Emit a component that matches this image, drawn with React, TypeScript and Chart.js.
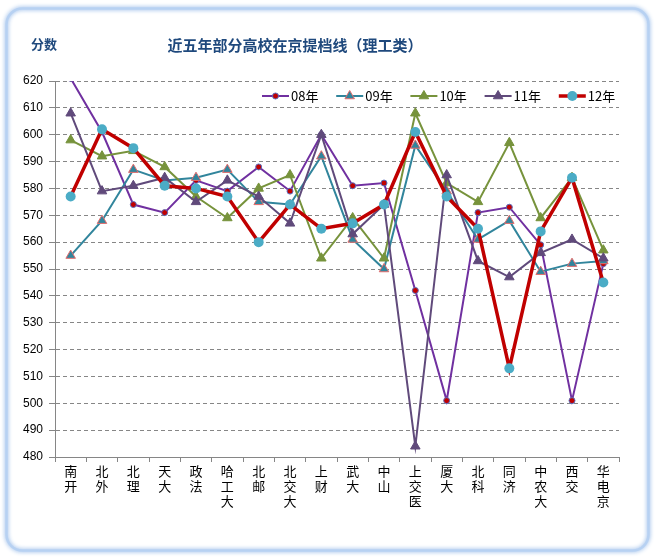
import React, { useEffect, useRef } from "react";
import { Chart, registerables } from "chart.js";

Chart.register(...registerables);

const titleText = "近五年部分高校在京提档线（理工类）";
const yAxisName = "分数";
const categories = ["南开", "北外", "北理", "天大", "政法", "哈工大", "北邮", "北交大", "上财", "武大", "中山", "上交医", "厦大", "北科", "同济", "中农大", "西交", "华电京"];
const seriesNames = ["08年", "09年", "10年", "11年", "12年"];
const s08 = [621, 601, 574, 571, 583, 579, 588, 579, 600, 581, 582, 542, 501, 571, 573, 559, 501, 552];
const s09 = [555, 568, 587, 583, 584, 587, 575, 574, 592, 561, 550, 596, 579, 561, 568, 549, 552, 553];
const s10 = [598, 592, 594, 588, 577, 569, 580, 585, 554, 569, 554, 608, 582, 575, 597, 569, 584, 557];
const s11 = [608, 579, 581, 584, 575, 583, 577, 567, 600, 563, 574, 484, 585, 553, 547, 556, 561, 554];
const s12 = [577, 602, 595, 581, 580, 577, 560, 574, 565, 567, 574, 601, 577, 565, 513, 564, 584, 545];
const yMin = 480;
const yMax = 620;
const yStep = 10;

const CJK = "'Noto Sans CJK SC', 'Noto Sans', sans-serif";

function drawMarker(ctx: CanvasRenderingContext2D, ds: any, x: number, y: number) {
  const r = ds.pointRadius;
  ctx.save();
  ctx.fillStyle = ds.pointBackgroundColor;
  ctx.strokeStyle = ds.pointBorderColor;
  ctx.lineWidth = ds.pointBorderWidth;
  ctx.beginPath();
  if (ds.pointStyle === "triangle") {
    let rad = 0;
    ctx.moveTo(x + Math.sin(rad) * r, y - Math.cos(rad) * r);
    rad += (2 * Math.PI) / 3;
    ctx.lineTo(x + Math.sin(rad) * r, y - Math.cos(rad) * r);
    rad += (2 * Math.PI) / 3;
    ctx.lineTo(x + Math.sin(rad) * r, y - Math.cos(rad) * r);
    ctx.closePath();
  } else {
    ctx.arc(x, y, r, 0, Math.PI * 2);
  }
  ctx.fill();
  if (ds.pointBorderWidth > 0) ctx.stroke();
  ctx.restore();
}

const framePlugin = {
  id: "frame",
  beforeDraw(chart: any) {
    const ctx = chart.ctx as CanvasRenderingContext2D;
    ctx.save();
    ctx.fillStyle = "#ffffff";
    ctx.fillRect(0, 0, chart.width, chart.height);
    ctx.shadowColor = "rgba(110,160,225,0.9)";
    ctx.shadowBlur = 4;
    ctx.strokeStyle = "#b7d1f2";
    ctx.lineWidth = 2.5;
    ctx.beginPath();
    (ctx as any).roundRect(6.5, 8.5, 642, 542, 16);
    ctx.stroke();
    ctx.restore();
    ctx.save();
    ctx.fillStyle = "#1F497D";
    ctx.textBaseline = "middle";
    ctx.font = `bold 15px ${CJK}`;
    ctx.textAlign = "center";
    ctx.fillText(titleText, 295, 45);
    ctx.font = `bold 13px ${CJK}`;
    ctx.textAlign = "left";
    ctx.fillText(yAxisName, 31, 44);
    ctx.restore();
  },
};

const legendPlugin = {
  id: "lineLegend",
  afterDraw(chart: any) {
    const ctx = chart.ctx as CanvasRenderingContext2D;
    chart.data.datasets.forEach((ds: any, i: number) => {
      const x0 = 262 + i * 74.2;
      const y = 96;
      ctx.save();
      ctx.strokeStyle = ds.borderColor;
      ctx.lineWidth = ds.borderWidth;
      ctx.beginPath();
      ctx.moveTo(x0, y);
      ctx.lineTo(x0 + 27, y);
      ctx.stroke();
      ctx.restore();
      drawMarker(ctx, ds, x0 + 13.5, y);
      ctx.save();
      ctx.fillStyle = "#000";
      ctx.font = `13px ${CJK}`;
      ctx.textBaseline = "middle";
      ctx.textAlign = "left";
      ctx.fillText(ds.label, x0 + 29, y);
      ctx.restore();
    });
  },
};

export default function App() {
  const ref = useRef<HTMLCanvasElement | null>(null);
  useEffect(() => {
    if (!ref.current) return;
    const mk = (label: string, data: number[], line: string, width: number, style: string, radius: number, fill: string, border: string, bw: number, order: number) => ({
      label,
      data,
      borderColor: line,
      backgroundColor: line,
      borderWidth: width,
      pointStyle: style,
      pointRadius: radius,
      pointBackgroundColor: fill,
      pointBorderColor: border,
      pointBorderWidth: bw,
      tension: 0,
      clip: 0,
      order,
    });
    const chart = new Chart(ref.current, {
      type: "line",
      data: {
        labels: categories.map((c) => c.split("")),
        datasets: [
          mk(seriesNames[0], s08, "#7030A0", 2, "circle", 3, "#C00000", "#5a6fc0", 1, 4),
          mk(seriesNames[1], s09, "#31859C", 2, "triangle", 5.5, "#31859C", "#E46C6C", 1, 3),
          mk(seriesNames[2], s10, "#77933C", 2, "triangle", 5.5, "#77933C", "#77933C", 1, 2),
          mk(seriesNames[3], s11, "#604A7B", 2, "triangle", 5.5, "#604A7B", "#604A7B", 1, 1),
          mk(seriesNames[4], s12, "#C00000", 3.5, "circle", 5, "#4BACC6", "#4BACC6", 0, 0),
        ] as any,
      },
      options: {
        animation: false,
        responsive: false,
        devicePixelRatio: 1,
        layout: { padding: { left: 0, top: 81, right: 36, bottom: 0 } },
        plugins: { legend: { display: false }, title: { display: false }, tooltip: { enabled: false } },
        scales: {
          x: {
            offset: true,
            grid: { display: true, drawOnChartArea: false, drawTicks: true, tickLength: 5, offset: true, color: "#868686", tickColor: "#868686", tickBorderDash: [] },
            border: { display: true, color: "#868686", width: 1 },
            ticks: { color: "#000", maxRotation: 0, minRotation: 0, autoSkip: false, padding: 2, font: { family: CJK, size: 13, lineHeight: "15px" } },
            afterFit: (s: any) => { s.height = 101; },
          },
          y: {
            min: yMin,
            max: yMax,
            grid: { color: "#868686", tickColor: "#868686", tickLength: 6, tickBorderDash: [] },
            border: { display: true, color: "#868686", width: 1, dash: [4, 3] },
            ticks: { stepSize: yStep, color: "#000", padding: 6, font: { family: "'Liberation Sans', sans-serif", size: 12 } },
            afterFit: (s: any) => { s.width = 55; },
          },
        },
      } as any,
      plugins: [framePlugin, legendPlugin],
    });
    return () => chart.destroy();
  }, []);
  return (
    <div style={{ position: "fixed", left: 0, top: 0, width: 655, height: 558, background: "#fff" }}>
      <canvas ref={ref} width={655} height={558} style={{ width: 655, height: 558, display: "block" }} />
    </div>
  );
}
